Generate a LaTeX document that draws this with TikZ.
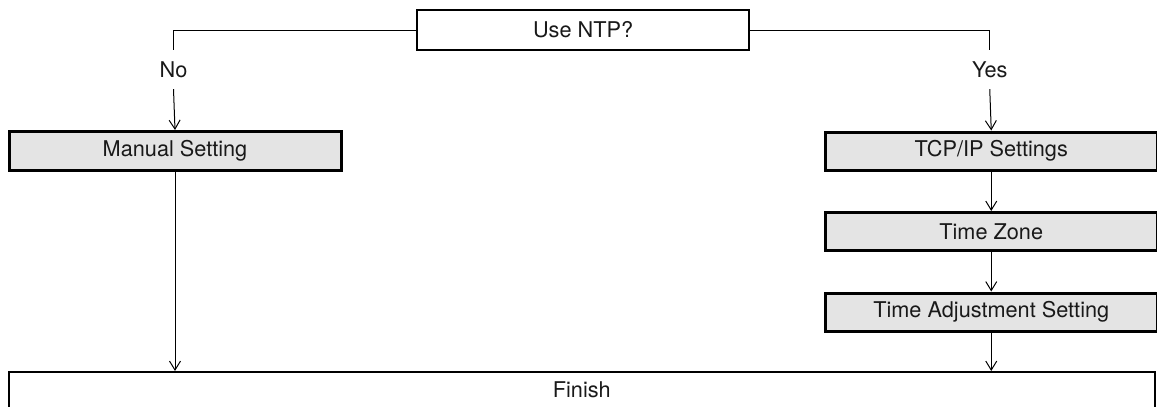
\documentclass[tikz,border=0pt]{standalone}
\usepackage{fontspec}
\setmainfont{TeX Gyre Heros}
\usetikzlibrary{arrows.meta,positioning}
\definecolor{boxgray}{HTML}{E4E4E4}
\begin{document}
\begin{tikzpicture}[x=1pt,y=-1pt,
  every node/.style={font=\fontsize{21.7}{26}\selectfont, text=black!90},
  plainbox/.style={draw, line width=2.2pt, inner sep=0pt, anchor=north west},
  graybox/.style={draw, line width=3pt, fill=boxgray, inner sep=0pt, anchor=north west},
  conn/.style={line width=1pt},
  arr/.style={conn, -{Straight Barb[length=9pt,width=11pt,line width=1pt]}},
  lbl/.style={inner sep=0pt, minimum height=39pt}
]
\useasboundingbox (0,0) rectangle (1157,407);
\node[plainbox, minimum width=332pt, minimum height=40pt] (ntp) at (416,9) {Use NTP?};
\node[graybox, minimum width=332pt, minimum height=39pt] (manual) at (7.5,130) {Manual Setting};
\node[graybox, minimum width=331.5pt, minimum height=38pt] (tcp) at (824,130.5) {TCP/IP Settings};
\node[graybox, minimum width=331.5pt, minimum height=38pt] (tz) at (824,211) {Time Zone};
\node[graybox, minimum width=331.5pt, minimum height=38pt] (ta) at (824,291.5) {Time Adjustment Setting};
\node[plainbox, minimum width=1146.5pt, minimum height=36pt] (finish) at (7.5,371) {Finish};
\node[lbl] (no) at (173.5,69.5) {No};
\node[lbl] (yes) at (989.75,69.5) {Yes};
\draw[conn] (ntp.west) -| (no.north);
\draw[conn] (ntp.east) -| (yes.north);
\draw[arr] (no.south) -- (manual.north);
\draw[arr] (yes.south) -- (tcp.north);
\draw[arr] (tcp.south) -- (tz.north);
\draw[arr] (tz.south) -- (ta.north);
\draw[arr] (manual.south) -- (manual.south |- finish.north);
\draw[arr] (ta.south) -- (ta.south |- finish.north);
\end{tikzpicture}
\end{document}
